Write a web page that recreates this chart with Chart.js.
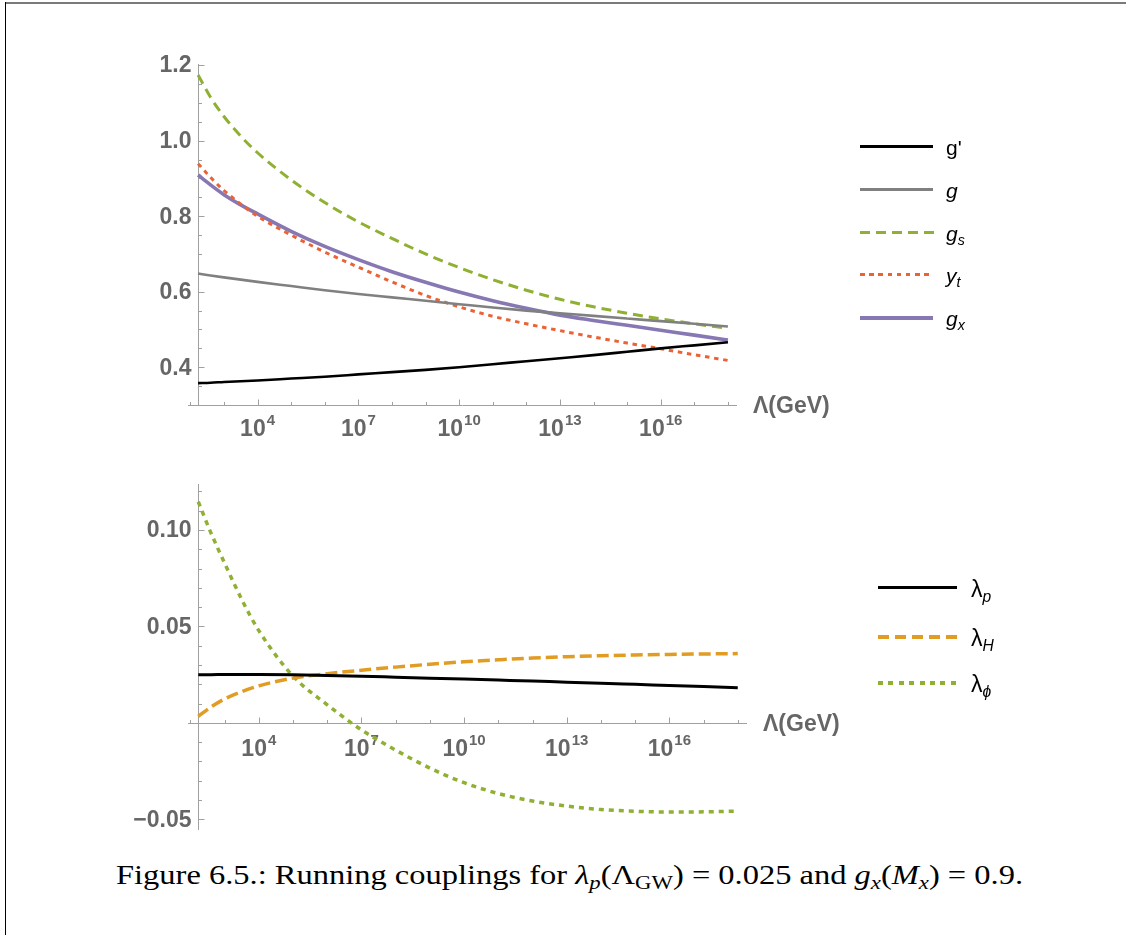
<!DOCTYPE html>
<html>
<head>
<meta charset="utf-8">
<script src="https://cdn.jsdelivr.net/npm/chart.js@4.4.0/dist/chart.umd.min.js"></script>
<style>
  body { margin: 0; background: #fff; width: 1126px; height: 935px; position: relative; overflow: hidden; }
  #frameTop { position: absolute; left: 5px; top: 2px; width: 1121px; height: 2px; background: #7a7a7a; }
  #frameLeft { position: absolute; left: 5px; top: 2px; width: 1px; height: 933px; background: #000; }
  canvas { position: absolute; left: 0; }
  .leg { position: absolute; font-family: "Liberation Sans", Arial, sans-serif; color: #000; }
  .leg .ln { position: absolute; height: 3px; }
  .leg .tx { position: absolute; line-height: 1; white-space: nowrap; }
  .leg sub { font-size: 0.68em; vertical-align: -0.3em; line-height: 0; }
  #caption { position: absolute; left: 116px; top: 862px; font-family: "Liberation Serif", "DejaVu Serif", serif;
             font-size: 27px; line-height: 1; white-space: nowrap; display: inline-block; transform-origin: 0 0; color: #000; }
  #caption sub { font-size: 0.7em; vertical-align: -0.25em; line-height: 0; }
</style>
</head>
<body>
<div id="frameTop"></div>
<div id="frameLeft"></div>
<canvas id="top" width="1126" height="460" style="top:0"></canvas>
<canvas id="bottom" width="1126" height="400" style="top:460px"></canvas>

<div class="leg" style="left:860px;top:0;font-size:21px">
  <div class="ln" style="top:145px;width:73px;background:#000"></div>
  <div class="tx" style="top:137px;left:86px">g'</div>
  <div class="ln" style="top:188px;width:73px;background:#808080"></div>
  <div class="tx" style="top:180px;left:86px"><i>g</i></div>
  <div class="ln" style="top:231px;width:74px;background:repeating-linear-gradient(90deg,#8fb032 0 10px,transparent 10px 16px)"></div>
  <div class="tx" style="top:223px;left:86px"><i>g</i><sub><i>s</i></sub></div>
  <div class="ln" style="top:273px;width:72px;background:repeating-linear-gradient(90deg,#eb6235 0 4.5px,transparent 4.5px 9.2px)"></div>
  <div class="tx" style="top:265px;left:86px"><i>y</i><sub><i>t</i></sub></div>
  <div class="ln" style="top:316px;width:73px;height:4px;background:#8778b3"></div>
  <div class="tx" style="top:308px;left:86px"><i>g</i><sub><i>x</i></sub></div>
</div>

<div class="leg" style="left:878px;top:0;font-size:23px">
  <div class="ln" style="top:586px;width:79px;background:#000"></div>
  <div class="tx" style="top:578px;left:93px">λ<sub><i>p</i></sub></div>
  <div class="ln" style="top:635px;width:79px;height:3.5px;background:repeating-linear-gradient(90deg,#e19c24 0 11px,transparent 11px 17px)"></div>
  <div class="tx" style="top:627px;left:93px">λ<sub><i>H</i></sub></div>
  <div class="ln" style="top:681px;width:78px;height:3.5px;background:repeating-linear-gradient(90deg,#8fb032 0 5px,transparent 5px 10.4px)"></div>
  <div class="tx" style="top:673px;left:93px">λ<sub><i>ϕ</i></sub></div>
</div>

<div id="caption">Figure 6.5.: Running couplings for <i>λ</i><sub><i>p</i></sub>(Λ<sub>GW</sub>) = 0.025 and <i>g</i><sub><i>x</i></sub>(<i>M</i><sub><i>x</i></sub>) = 0.9.</div>

<script>
// x values are log10 of Lambda in GeV
const logLambda = [2.23, 2.6, 3, 3.5, 4, 5, 6, 7, 8, 9, 10, 11, 12, 13, 14, 15, 16, 17, 18];

// gauge and top couplings (upper panel)
const gPrime  = [0.358, 0.359, 0.361, 0.363, 0.365, 0.370, 0.375, 0.381, 0.387, 0.393, 0.400, 0.408, 0.416, 0.424, 0.432, 0.441, 0.450, 0.458, 0.466];
const gWeak   = [0.648, 0.643, 0.638, 0.632, 0.626, 0.615, 0.604, 0.594, 0.585, 0.576, 0.567, 0.558, 0.550, 0.543, 0.536, 0.529, 0.522, 0.515, 0.508];
const gStrong = [1.174, 1.115, 1.064, 1.012, 0.968, 0.896, 0.836, 0.785, 0.741, 0.700, 0.664, 0.632, 0.604, 0.580, 0.560, 0.543, 0.528, 0.515, 0.503];
const yTop    = [0.939, 0.903, 0.868, 0.832, 0.800, 0.750, 0.705, 0.665, 0.626, 0.590, 0.560, 0.535, 0.515, 0.497, 0.480, 0.464, 0.449, 0.433, 0.418];
const gX      = [0.909, 0.883, 0.857, 0.830, 0.806, 0.760, 0.720, 0.685, 0.653, 0.625, 0.599, 0.576, 0.556, 0.538, 0.524, 0.511, 0.498, 0.485, 0.472];

// scalar couplings (lower panel)
const lamP   = [0.0250, 0.0250, 0.0251, 0.0251, 0.0251, 0.0250, 0.0246, 0.0242, 0.0237, 0.0232, 0.0227, 0.0222, 0.0217, 0.0211, 0.0206, 0.0200, 0.0194, 0.0188, 0.0182];
const lamH   = [0.0034, 0.0082, 0.0124, 0.0162, 0.0192, 0.0232, 0.0255, 0.0273, 0.0289, 0.0304, 0.0317, 0.0327, 0.0336, 0.0343, 0.0348, 0.0352, 0.0355, 0.0357, 0.0359];
const lamPhi = [0.1146, 0.0985, 0.0828, 0.0640, 0.0478, 0.0243, 0.0094, -0.0036, -0.0141, -0.0234, -0.0310, -0.0366, -0.0405, -0.0431, -0.0449, -0.0458, -0.0462, -0.0461, -0.0457];

// ticks
const xTickExps = [4, 7, 10, 13, 16];
const topYTicks = [0.4, 0.6, 0.8, 1.0, 1.2];
const topYLabels = ['0.4', '0.6', '0.8', '1.0', '1.2'];
const botYTicks = [-0.05, 0.05, 0.10];
const botYLabels = ['\u22120.05', '0.05', '0.10'];

const LABEL_FONT = '"Liberation Sans", Arial, sans-serif';

function pts(ys) {
  return ys.map((y, i) => ({ x: logLambda[i], y: y }));
}

function ds(label, ys, color, width, dash) {
  return {
    label: label, data: pts(ys), borderColor: color, borderWidth: width,
    borderDash: dash || [], pointRadius: 0, fill: false,
    cubicInterpolationMode: 'monotone', clip: false
  };
}

// Mathematica-like axes crossing inside the frame
const mmaAxes = {
  id: 'mmaAxes',
  beforeDatasetsDraw(chart, args, o) {
    const ctx = chart.ctx, xs = chart.scales.x, ys = chart.scales.y;
    const ax = Math.round(xs.getPixelForValue(o.yAxisAt)) + 0.5;
    const ay = Math.round(ys.getPixelForValue(o.xAxisAt)) + 0.5;
    ctx.save();
    ctx.strokeStyle = '#a0a0a0';
    ctx.lineWidth = 1;
    ctx.beginPath();
    ctx.moveTo(xs.left, ay); ctx.lineTo(xs.right, ay);
    ctx.moveTo(ax, ys.top); ctx.lineTo(ax, ys.bottom);
    for (let d = Math.ceil(xs.min); d <= xs.max; d++) {
      const px = Math.round(xs.getPixelForValue(d)) + 0.5;
      const len = xTickExps.includes(d) ? 6 : 3.5;
      ctx.moveTo(px, ay); ctx.lineTo(px, ay - len);
    }
    const n0 = Math.ceil(ys.min / o.yMinorStep - 1e-9), n1 = Math.floor(ys.max / o.yMinorStep + 1e-9);
    for (let n = n0; n <= n1; n++) {
      const v = n * o.yMinorStep;
      if (Math.abs(v - o.xAxisAt) < 1e-9) continue;
      const major = o.yTicks.some(m => Math.abs(m - v) < 1e-9);
      const py = Math.round(ys.getPixelForValue(v)) + 0.5;
      ctx.moveTo(ax, py); ctx.lineTo(ax + (major ? 6 : 3.5), py);
    }
    ctx.stroke();

    ctx.fillStyle = '#666666';
    ctx.font = 'bold 23px ' + LABEL_FONT;
    ctx.textAlign = 'right';
    ctx.textBaseline = 'middle';
    o.yTicks.forEach((v, i) => ctx.fillText(o.yLabels[i], ax - 7, ys.getPixelForValue(v) + 1));

    ctx.textAlign = 'left';
    ctx.textBaseline = 'alphabetic';
    xTickExps.forEach(e => {
      ctx.font = 'bold 23px ' + LABEL_FONT;
      const w1 = ctx.measureText('10').width;
      ctx.font = 'bold 15px ' + LABEL_FONT;
      const w2 = ctx.measureText(String(e)).width;
      const left = xs.getPixelForValue(e) - (w1 + w2 + 1) / 2;
      const base = ay + o.labelDrop;
      ctx.font = 'bold 23px ' + LABEL_FONT;
      ctx.fillText('10', left, base);
      ctx.font = 'bold 15px ' + LABEL_FONT;
      ctx.fillText(String(e), left + w1 + 1, base - 11);
    });

    ctx.font = 'bold 23px ' + LABEL_FONT;
    ctx.textBaseline = 'middle';
    ctx.fillText('\u039B(GeV)', xs.right + 16, ay + 1);
    ctx.restore();
  }
};

function makeChart(id, datasets, xr, yr, pad, axesOpts) {
  return new Chart(document.getElementById(id).getContext('2d'), {
    type: 'line',
    data: { datasets: datasets },
    options: {
      responsive: false,
      animation: false,
      devicePixelRatio: 1,
      layout: { padding: pad },
      plugins: { legend: { display: false }, tooltip: { enabled: false }, mmaAxes: axesOpts },
      scales: {
        x: { type: 'linear', display: false, min: xr[0], max: xr[1] },
        y: { type: 'linear', display: false, min: yr[0], max: yr[1] }
      }
    },
    plugins: [mmaAxes]
  });
}

makeChart('top', [
  ds("g'", gPrime, '#000000', 2.6),
  ds('g', gWeak, '#808080', 2.6),
  ds('gs', gStrong, '#8fb032', 3, [10, 6]),
  ds('yt', yTop, '#eb6235', 3, [4.5, 4.7]),
  ds('gx', gX, '#8778b3', 3.6)
], [1.93, 18.27], [0.3, 1.203], { left: 188, right: 389, top: 64, bottom: 55 },
  { yAxisAt: logLambda[0], xAxisAt: 0.3, yTicks: topYTicks, yLabels: topYLabels, yMinorStep: 0.05, labelDrop: 30 });

makeChart('bottom', [
  ds('lp', lamP, '#000000', 3),
  ds('lH', lamH, '#e19c24', 3.5, [12, 5]),
  ds('lphi', lamPhi, '#8fb032', 3.5, [5, 5])
], [1.93, 18.27], [-0.0555, 0.1238], { left: 188, right: 379, top: 24, bottom: 30 },
  { yAxisAt: logLambda[0], xAxisAt: 0, yTicks: botYTicks, yLabels: botYLabels, yMinorStep: 0.01, labelDrop: 32 });

const cap = document.getElementById('caption');
const cw = cap.getBoundingClientRect().width;
cap.style.transform = 'scaleX(' + (907 / cw) + ')';
</script>
</body>
</html>
